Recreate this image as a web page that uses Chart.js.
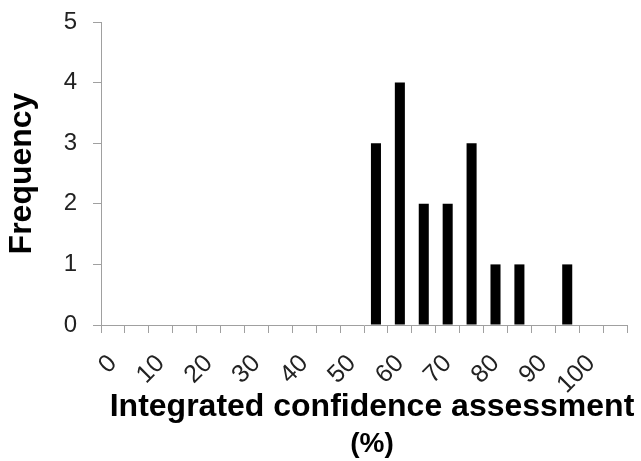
<!DOCTYPE html>
<html>
<head>
<meta charset="utf-8">
<script src="https://cdn.jsdelivr.net/npm/chart.js@4.4.1/dist/chart.umd.min.js"></script>
<style>
  html, body { margin: 0; padding: 0; background: #fff; }
  #wrap { width: 641px; height: 461px; }
</style>
</head>
<body>
<div id="wrap"><canvas id="myChart" width="641" height="461"></canvas></div>
<script>
// histogram bins (5% steps), only every other one gets a visible label
const bins = ["0", "5", "10", "15", "20", "25", "30", "35", "40", "45", "50",
  "55", "60", "65", "70", "75", "80", "85", "90", "95", "100", "More"];
const frequency = [0, 0, 0, 0, 0, 0, 0, 0, 0, 0, 0,
  3, 4, 2, 2, 3, 1, 1, 0, 1, 0, 0];
const yTicks = [0, 1, 2, 3, 4, 5];
const xTitle = ["Integrated confidence assessment", "(%)"];

// x title drawn by hand: second line is smaller than the first in the original
const xTitlePlugin = {
  id: "xTitle",
  afterDraw: function (chart) {
    const c = chart.ctx;
    const cx = chart.chartArea.left + (chart.chartArea.right - chart.chartArea.left) / 2 + 8;
    c.save();
    c.fillStyle = "#000";
    c.textAlign = "center";
    c.textBaseline = "alphabetic";
    c.font = "bold 32px 'Liberation Sans'";
    c.fillText(xTitle[0], cx, 416);
    c.font = "bold 28px 'Liberation Sans'";
    c.fillText(xTitle[1], cx, 452);
    c.restore();
  },
};

const ctx = document.getElementById("myChart");
new Chart(ctx, {
  type: "bar",
  data: {
    labels: bins,
    datasets: [
      {
        label: "Frequency",
        data: frequency,
        backgroundColor: "#000",
        borderWidth: 0,
        barPercentage: 0.42,
        categoryPercentage: 1,
      },
    ],
  },
  plugins: [xTitlePlugin],
  options: {
    responsive: false,
    animation: false,
    layout: { padding: { left: 0, right: 14, top: 22, bottom: 0 } },
    plugins: {
      legend: { display: false },
      tooltip: { enabled: false },
    },
    scales: {
      x: {
        offset: true,
        grid: {
          offset: true,
          drawOnChartArea: false,
          drawTicks: true,
          tickLength: 8,
          color: "#a0a0a0",
        },
        border: { color: "#a0a0a0", width: 1 },
        ticks: {
          autoSkip: false,
          maxRotation: 45,
          minRotation: 45,
          padding: 16,
          color: "#222",
          font: { family: "Liberation Sans", size: 25 },
          callback: function (val, i) {
            return i % 2 === 0 ? bins[i] : "";
          },
        },
        afterFit: function (scale) {
          scale.height = 136;
          scale.paddingLeft = 0;
          scale.paddingRight = 0;
        },
      },
      y: {
        min: 0,
        max: 5,
        afterBuildTicks: function (scale) {
          scale.ticks = yTicks.map(function (v) { return { value: v }; });
        },
        grid: {
          drawOnChartArea: false,
          drawTicks: true,
          tickLength: 8,
          color: "#a0a0a0",
        },
        border: { color: "#a0a0a0", width: 1 },
        ticks: {
          padding: 16,
          color: "#222",
          font: { family: "Liberation Sans", size: 24 },
        },
        title: {
          display: true,
          text: "Frequency",
          color: "#000",
          font: { family: "Liberation Sans", size: 32, weight: "bold", lineHeight: 1.2 },
          padding: { top: 3, bottom: 0 },
        },
        afterFit: function (scale) {
          scale.width = 101;
          scale.paddingTop = 0;
          scale.paddingBottom = 0;
        },
      },
    },
  },
});
</script>
</body>
</html>
